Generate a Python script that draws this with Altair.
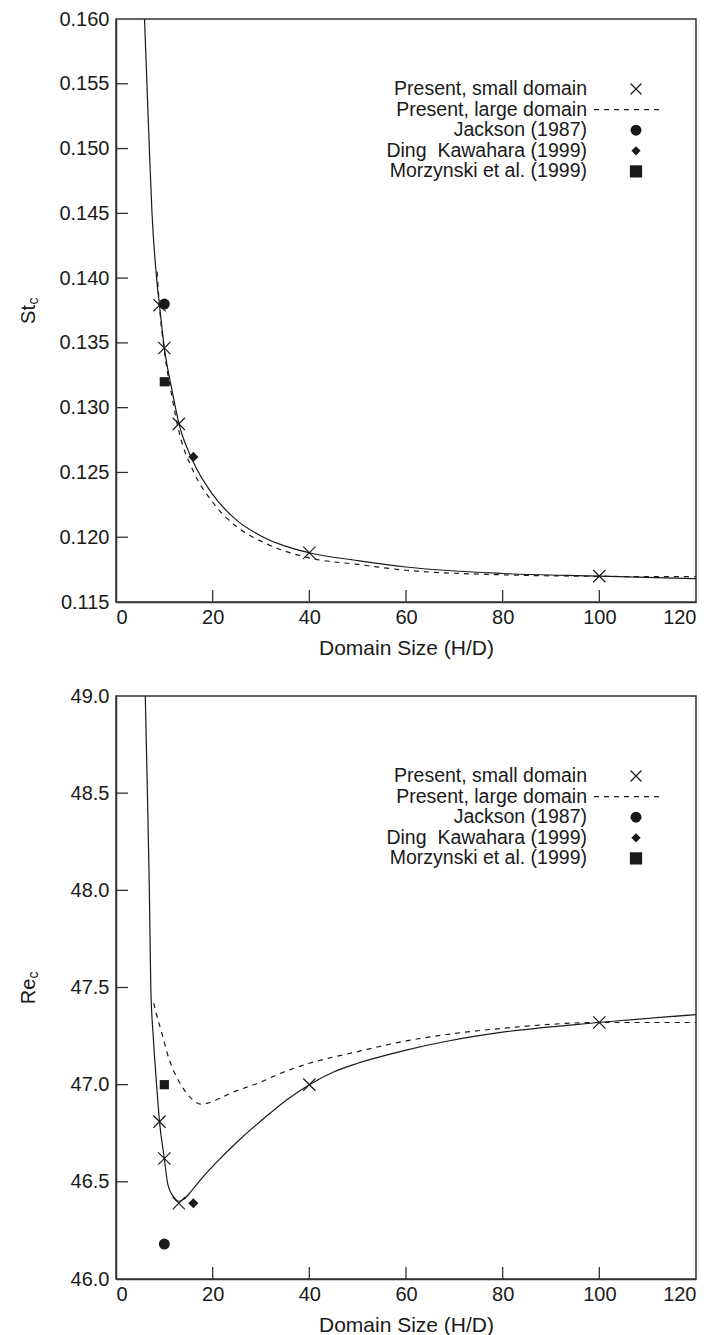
import altair as alt
import pandas as pd

# ---------------- data ----------------
# Top panel: critical Strouhal number St_c vs domain size
st_small_x = [5.9, 6.4, 6.9, 7.45, 8.4, 9, 10, 11.5, 13, 16, 20, 25, 30, 40, 50, 60, 80, 100, 120]
st_small_y = [0.160, 0.155, 0.150, 0.145, 0.140, 0.1379, 0.1346, 0.1315, 0.1288, 0.1258, 0.1233,
              0.1213, 0.1201, 0.1188, 0.1182, 0.1177, 0.1172, 0.1170, 0.1168]
st_large_x = [8.5, 9, 10, 11.5, 13, 16, 20, 25, 30, 40, 50, 60, 80, 100, 120]
st_large_y = [0.1405, 0.1378, 0.1344, 0.1310, 0.1282, 0.1251, 0.1227, 0.1208, 0.1197, 0.1184,
              0.1179, 0.11745, 0.1171, 0.11698, 0.11695]
st_cross_x = [9, 10, 13, 40, 100]
st_cross_y = [0.1379, 0.1346, 0.12875, 0.1188, 0.1170]

# Bottom panel: critical Reynolds number Re_c vs domain size
re_small_x = [6.06, 6.5, 6.9, 7.2, 7.7, 8.4, 9, 10, 10.7, 12.0, 13.0, 14.0, 15.5, 18.0, 21.0, 25.5, 31,
              35.5, 40, 45, 50, 60, 69, 80, 100, 120]
re_small_y = [49.0, 48.5, 48.0, 47.5, 47.25, 47.0, 46.81, 46.62, 46.49, 46.42, 46.40, 46.41, 46.45,
              46.525, 46.605, 46.715, 46.835, 46.925, 47.0, 47.065, 47.11, 47.178, 47.226, 47.27,
              47.32, 47.36]
re_large_x = [7.8, 8.3, 9.65, 11.0, 12.75, 14.5, 16.0, 17.5, 19.0, 21.0, 24.1, 29.6, 35.2, 40, 50, 60,
              69, 80, 100, 120]
re_large_y = [47.42, 47.37, 47.25, 47.13, 47.03, 46.96, 46.92, 46.90, 46.905, 46.925, 46.96, 47.01,
              47.07, 47.11, 47.17, 47.225, 47.26, 47.29, 47.32, 47.32]
re_cross_x = [9, 10, 13, 40, 100]
re_cross_y = [46.81, 46.62, 46.39, 47.0, 47.32]

# Reference results
ref_names = ["Jackson (1987)", "Ding\u00a0 Kawahara (1999)", "Morzynski et al. (1999)"]
ref_x = [10, 16, 10]
ref_st = [0.138, 0.1262, 0.132]
ref_re = [46.18, 46.39, 47.0]

legend_labels = ["Present, small domain", "Present, large domain"] + ref_names
x_tick_values = [0, 20, 40, 60, 80, 100, 120]

# ---------------- styling ----------------
FONT = "Liberation Sans"
INK = "#1a1a1a"
W, H = 580, 583
CROSS = "M-1,-1L1,1M1,-1L-1,1"
TICK = 12
LEG_FS = 19.5
LEG_STEP = 20.6


def panel(small_x, small_y, large_x, large_y, cross_x, cross_y, ref_y,
          ydom, yticks, yfmt, ylab, legend_top):
    xs = alt.Scale(domain=[0, 120], nice=False, zero=False)
    ys = alt.Scale(domain=ydom, nice=False, zero=False)
    xaxis = alt.Axis(values=x_tick_values, format="d", title="Domain Size (H/D)",
                     labelPadding=5, titlePadding=10)
    yaxis = alt.Axis(values=yticks, format=yfmt, title=None, labelPadding=7)

    def X(f):
        return alt.X(f, type="quantitative", scale=xs, axis=xaxis)

    def Y(f):
        return alt.Y(f, type="quantitative", scale=ys, axis=yaxis)

    small = pd.DataFrame({"x": small_x, "y": small_y})
    large = pd.DataFrame({"x": large_x, "y": large_y})
    crosses = pd.DataFrame({"x": cross_x, "y": cross_y})
    refs = pd.DataFrame({"x": ref_x, "y": ref_y, "src": ref_names})
    ytk = pd.DataFrame({"v": yticks[1:-1]})
    xtk = pd.DataFrame({"v": x_tick_values[1:-1]})

    layers = [
        alt.Chart(small).mark_line(color=INK, strokeWidth=1.2, interpolate="monotone", clip=True)
        .encode(x=X("x"), y=Y("y")),
        alt.Chart(large).mark_line(color=INK, strokeWidth=1.2, strokeDash=[5, 5],
                                   interpolate="monotone", clip=True)
        .encode(x=X("x"), y=Y("y")),
        alt.Chart(crosses).mark_point(shape=CROSS, size=150, strokeWidth=1.2, color=INK,
                                      filled=False, opacity=1)
        .encode(x=X("x"), y=Y("y")),
        alt.Chart(refs).mark_point(filled=True, color=INK, opacity=1)
        .encode(x=X("x"), y=Y("y"),
                shape=alt.Shape("src:N", scale=alt.Scale(domain=ref_names,
                                                        range=["circle", "diamond", "square"]), legend=None),
                size=alt.Size("src:N", scale=alt.Scale(domain=ref_names, range=[120, 85, 150]), legend=None)),
        alt.Chart(ytk).mark_rule(color="#333", strokeWidth=1.3)
        .encode(y=Y("v"), x=alt.value(0), x2=alt.value(TICK)),
        alt.Chart(xtk).mark_rule(color="#333", strokeWidth=1.3)
        .encode(x=X("v"), y=alt.value(H), y2=alt.value(H - TICK)),
    ]

    # hand-made legend: labels right-aligned, symbols to their right
    rows = [legend_top + i * LEG_STEP for i in range(len(legend_labels))]
    text_right, sym_x, dash_l, dash_r = 471, 520, 478, 547
    for lab, ry in zip(legend_labels, rows):
        layers.append(
            alt.Chart(pd.DataFrame({"label": [lab]}))
            .mark_text(align="right", baseline="middle", font=FONT, fontSize=LEG_FS, color=INK)
            .encode(text="label:N", x=alt.value(text_right), y=alt.value(ry))
        )
    one = pd.DataFrame({"k": [0]})
    layers.append(alt.Chart(one).mark_point(shape=CROSS, size=120, strokeWidth=1.2, color=INK,
                                            filled=False, opacity=1)
                  .encode(x=alt.value(sym_x), y=alt.value(rows[0])))
    layers.append(alt.Chart(one).mark_rule(color=INK, strokeWidth=1.2, strokeDash=[5, 5])
                  .encode(x=alt.value(dash_l), x2=alt.value(dash_r), y=alt.value(rows[1])))
    for shp, sz, ry in zip(["circle", "diamond", "square"], [120, 85, 150], rows[2:]):
        layers.append(alt.Chart(one).mark_point(shape=shp, size=sz, filled=True, color=INK, opacity=1)
                      .encode(x=alt.value(sym_x), y=alt.value(ry)))

    # y title with subscript c
    main, sub = ylab
    mid = H / 2
    main_w = 19 if main == "St" else 25
    layers.append(alt.Chart(one).mark_text(angle=270, align="center", baseline="middle",
                                           font=FONT, fontSize=20, color=INK)
                  .encode(text=alt.value(main), x=alt.value(-87), y=alt.value(mid + 4)))
    layers.append(alt.Chart(one).mark_text(angle=270, align="center", baseline="middle",
                                           font=FONT, fontSize=14, color=INK)
                  .encode(text=alt.value(sub), x=alt.value(-82), y=alt.value(mid + 4 - main_w / 2 - 4)))

    return alt.layer(*layers).properties(width=W, height=H)


top = panel(st_small_x, st_small_y, st_large_x, st_large_y, st_cross_x, st_cross_y, ref_st,
            [0.115, 0.160], [0.115, 0.120, 0.125, 0.130, 0.135, 0.140, 0.145, 0.150, 0.155, 0.160],
            ".3f", ("St", "c"), 70)
bottom = panel(re_small_x, re_small_y, re_large_x, re_large_y, re_cross_x, re_cross_y, ref_re,
               [46.0, 49.0], [46.0, 46.5, 47.0, 47.5, 48.0, 48.5, 49.0],
               ".1f", ("Re", "c"), 80)

chart = (
    alt.vconcat(top, bottom, spacing=26)
    .properties(padding={"left": 10, "top": 0, "right": 0, "bottom": 0})
    .configure_view(stroke="#333", strokeWidth=1.5)
    .configure_axis(labelFont=FONT, titleFont=FONT, labelFontSize=20, titleFontSize=21,
                    titleFontWeight="normal", labelColor=INK, titleColor=INK,
                    domainColor="#333", domainWidth=1.5, ticks=False, tickSize=0, grid=False)
)

chart.save("out.html", embed_options={"renderer": "svg", "actions": False})
